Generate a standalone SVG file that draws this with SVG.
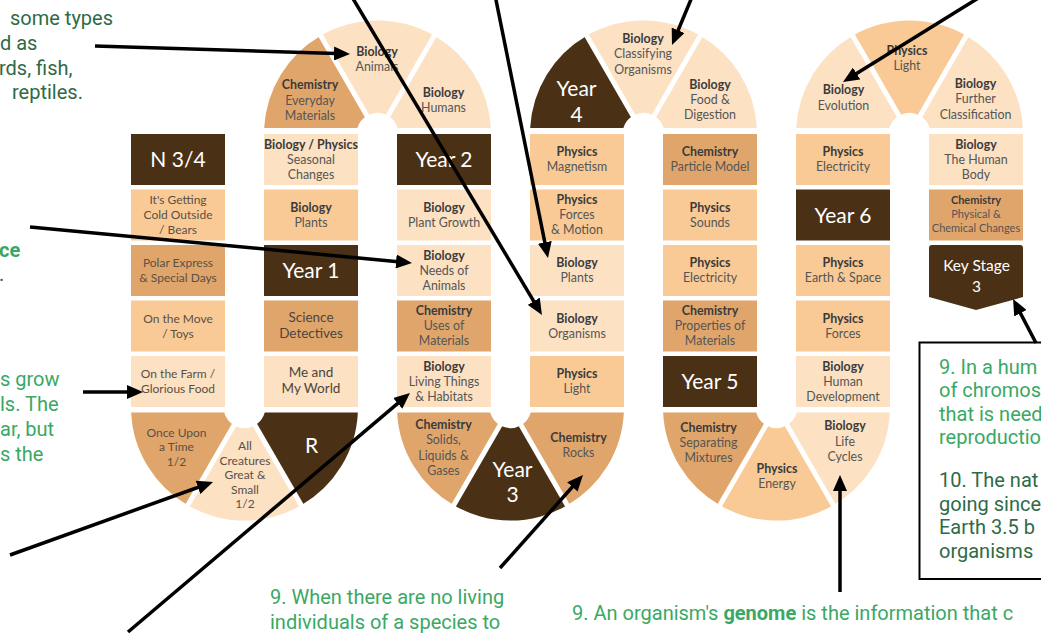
<svg xmlns="http://www.w3.org/2000/svg" width="1041" height="635" viewBox="0 0 1041 635">
<defs>
<marker id="ah" markerUnits="userSpaceOnUse" markerWidth="16" markerHeight="14" viewBox="0 0 16 14" refX="10" refY="7" orient="auto"><path d="M0,0 L16,7 L0,14 Z" fill="#000"/></marker>
<style>
.d{fill:#4a3116}.t{fill:#e0a56b}.m{fill:#f9ca95}.l{fill:#fce1c3}
.lb{font-family:Lato,"Noto Sans",sans-serif;font-size:12.4px;font-weight:700;fill:#3b3b3b;text-anchor:middle}
.tp{font-family:Lato,"Noto Sans",sans-serif;font-size:12.4px;fill:#555;text-anchor:middle}
.ps{font-family:Lato,"Noto Sans",sans-serif;font-size:12px;fill:#5a5046;text-anchor:middle}
.ps13{font-family:Lato,"Noto Sans",sans-serif;font-size:13.5px;fill:#4a4540;text-anchor:middle}
.yr{font-family:Lato,"Noto Sans",sans-serif;font-size:21px;fill:#fff;text-anchor:middle}
.ks{font-size:15.5px}
.sm{font-size:11px}
.g1{font-family:Roboto,"Liberation Sans",sans-serif;font-size:20px;fill:#3aa864}
.g2{font-family:Roboto,"Liberation Sans",sans-serif;font-size:20px;fill:#2f6a47}
.sep line{stroke:#fff;stroke-width:5}
.cn path{stroke:#000;stroke-width:3.5;fill:none;marker-end:url(#ah)}
</style>
</defs>
<rect width="1041" height="635" fill="#fff"/>

<g id="notes">
<text class="g2" x="10" y="24.5">some types</text>
<text class="g2" x="0" y="49.5">d as</text>
<text class="g2" x="-1" y="74.5">rds, fish,</text>
<text class="g2" x="12" y="99">reptiles.</text>
<text class="g1" x="-1" y="257" font-weight="700">ce</text>
<text class="g2" x="-1" y="281">.</text>
<text class="g1" x="0" y="386">s grow</text>
<text class="g1" x="0" y="411">ls. The</text>
<text class="g1" x="0" y="436">ar, but</text>
<text class="g1" x="0" y="461">s the</text>
<text class="g1" x="270" y="604">9. When there are no living</text>
<text class="g1" x="270" y="629">individuals of a species to</text>
<text class="g1" x="572" y="620">9. An organism's <tspan font-weight="700">genome</tspan> is the information that c</text>
</g>

<g id="note-box">
<rect x="919.5" y="342.5" width="130" height="236.5" fill="#fff" stroke="#000" stroke-width="2"/>
<text class="g1" x="939" y="373.5">9. In a hum</text>
<text class="g1" x="939" y="397">of chromos</text>
<text class="g1" x="939" y="420.5">that is need</text>
<text class="g1" x="939" y="444">reproductio</text>
<text class="g2" x="939" y="487">10. The nat</text>
<text class="g2" x="939" y="510.5">going since</text>
<text class="g2" x="939" y="534">Earth 3.5 b</text>
<text class="g2" x="939" y="557.5">organisms</text>
</g>

<!-- Column A -->
<g id="n34"><rect class="d" x="131" y="134" width="94" height="51"/><text class="yr" x="178" y="167">N 3/4</text></g>
<g id="cold"><rect class="m" x="131" y="189.5" width="94" height="51"/><text class="ps" x="178" y="204">It's Getting</text><text class="ps" x="178" y="219">Cold Outside</text><text class="ps" x="178" y="234">/ Bears</text></g>
<g id="polar"><rect class="t" x="131" y="245" width="94" height="51"/><text class="ps" x="178" y="267">Polar Express</text><text class="ps" x="178" y="282">&amp; Special Days</text></g>
<g id="move"><rect class="m" x="131" y="300.5" width="94" height="51"/><text class="ps" x="178" y="322.5">On the Move</text><text class="ps" x="178" y="337.5">/ Toys</text></g>
<g id="farm"><rect class="l" x="131" y="356" width="94" height="51"/><text class="ps" x="178" y="378">On the Farm /</text><text class="ps" x="178" y="393">Glorious Food</text></g>

<!-- Bottom arch A-B -->
<g id="once"><path class="t" transform="translate(244.5,407)" d="M-113.37,5.5 A113.5,113.5 0 0 0 -56.75,98.29 L-10.5,18.19 A21,21 0 0 1 -20.27,5.5 Z"/><text class="ps" x="176.5" y="436.5">Once Upon</text><text class="ps" x="176.5" y="451">a Time</text><text class="ps" x="176.5" y="465.5">1/2</text></g>
<g id="creatures"><path class="l" transform="translate(244.5,407)" d="M-56.75,98.29 A113.5,113.5 0 0 0 56.75,98.29 L10.5,18.19 A21,21 0 0 1 -10.5,18.19 Z"/><text class="ps" x="245" y="450">All</text><text class="ps" x="245" y="464.5">Creatures</text><text class="ps" x="245" y="479">Great &amp;</text><text class="ps" x="245" y="493.5">Small</text><text class="ps" x="245" y="508">1/2</text></g>
<g id="r"><path class="d" transform="translate(244.5,407)" d="M56.75,98.29 A113.5,113.5 0 0 0 113.37,5.5 L20.27,5.5 A21,21 0 0 1 10.5,18.19 Z"/><text class="yr" x="311.5" y="452.5">R</text></g>

<!-- Column B -->
<g id="seasonal"><rect class="l" x="264" y="134" width="94" height="51"/><text class="lb" x="311" y="148.5">Biology / Physics</text><text class="tp" x="311" y="163.5">Seasonal</text><text class="tp" x="311" y="178.5">Changes</text></g>
<g id="plants1"><rect class="m" x="264" y="189.5" width="94" height="51"/><text class="lb" x="311" y="211.5">Biology</text><text class="tp" x="311" y="226.5">Plants</text></g>
<g id="year1"><rect class="d" x="264" y="245" width="94" height="51"/><text class="yr" x="311" y="278">Year 1</text></g>
<g id="detectives"><rect class="t" x="264" y="300.5" width="94" height="51"/><text class="ps13" x="311" y="321.5">Science</text><text class="ps13" x="311" y="338">Detectives</text></g>
<g id="world"><rect class="l" x="264" y="356" width="94" height="51"/><text class="ps13" x="311" y="376.5">Me and</text><text class="ps13" x="311" y="393">My World</text></g>

<!-- Top arch B-C -->
<g id="everyday"><path class="t" transform="translate(377.5,134)" d="M-113.34,-6 A113.5,113.5 0 0 1 -56.75,-98.29 L-10.5,-18.19 A21,21 0 0 0 -20.12,-6 Z"/><text class="lb" x="310" y="89">Chemistry</text><text class="tp" x="310" y="104.5">Everyday</text><text class="tp" x="310" y="120">Materials</text></g>
<g id="animals"><path class="l" transform="translate(377.5,134)" d="M-56.75,-98.29 A113.5,113.5 0 0 1 56.75,-98.29 L10.5,-18.19 A21,21 0 0 0 -10.5,-18.19 Z"/><text class="lb" x="377" y="56">Biology</text><text class="tp" x="377" y="71">Animals</text></g>
<g id="humans"><path class="l" transform="translate(377.5,134)" d="M56.75,-98.29 A113.5,113.5 0 0 1 113.34,-6 L20.12,-6 A21,21 0 0 0 10.5,-18.19 Z"/><text class="lb" x="443.5" y="97">Biology</text><text class="tp" x="443.5" y="112">Humans</text></g>

<!-- Column C -->
<g id="year2"><rect class="d" x="397" y="134" width="94" height="51"/><text class="yr" x="444" y="167">Year 2</text></g>
<g id="growth"><rect class="l" x="397" y="189.5" width="94" height="51"/><text class="lb" x="444" y="211.5">Biology</text><text class="tp" x="444" y="226.5">Plant Growth</text></g>
<g id="needs"><rect class="l" x="397" y="245" width="94" height="51"/><text class="lb" x="444" y="259.5">Biology</text><text class="tp" x="444" y="274.5">Needs of</text><text class="tp" x="444" y="289.5">Animals</text></g>
<g id="uses"><rect class="t" x="397" y="300.5" width="94" height="51"/><text class="lb" x="444" y="315">Chemistry</text><text class="tp" x="444" y="330">Uses of</text><text class="tp" x="444" y="345">Materials</text></g>
<g id="living"><rect class="l" x="397" y="356" width="94" height="51"/><text class="lb" x="444" y="370.5">Biology</text><text class="tp" x="444" y="385.5">Living Things</text><text class="tp" x="444" y="400.5">&amp; Habitats</text></g>

<!-- Bottom arch C-D -->
<g id="solids"><path class="t" transform="translate(510.5,407)" d="M-113.37,5.5 A113.5,113.5 0 0 0 -56.75,98.29 L-10.5,18.19 A21,21 0 0 1 -20.27,5.5 Z"/><text class="lb" x="443.5" y="428.5">Chemistry</text><text class="tp" x="443.5" y="444">Solids,</text><text class="tp" x="443.5" y="459.5">Liquids &amp;</text><text class="tp" x="443.5" y="475">Gases</text></g>
<g id="year3"><path class="d" transform="translate(510.5,407)" d="M-56.75,98.29 A113.5,113.5 0 0 0 56.75,98.29 L10.5,18.19 A21,21 0 0 1 -10.5,18.19 Z"/><text class="yr" x="512.5" y="476.5">Year</text><text class="yr" x="512.5" y="502">3</text></g>
<g id="rocks"><path class="t" transform="translate(510.5,407)" d="M56.75,98.29 A113.5,113.5 0 0 0 113.37,5.5 L20.27,5.5 A21,21 0 0 1 10.5,18.19 Z"/><text class="lb" x="578.5" y="442">Chemistry</text><text class="tp" x="578.5" y="457">Rocks</text></g>

<!-- Column D -->
<g id="magnetism"><rect class="m" x="530" y="134" width="94" height="51"/><text class="lb" x="577" y="156">Physics</text><text class="tp" x="577" y="171">Magnetism</text></g>
<g id="forces-motion"><rect class="m" x="530" y="189.5" width="94" height="51"/><text class="lb" x="577" y="204">Physics</text><text class="tp" x="577" y="219">Forces</text><text class="tp" x="577" y="234">&amp; Motion</text></g>
<g id="plants3"><rect class="l" x="530" y="245" width="94" height="51"/><text class="lb" x="577" y="267">Biology</text><text class="tp" x="577" y="282">Plants</text></g>
<g id="organisms"><rect class="l" x="530" y="300.5" width="94" height="51"/><text class="lb" x="577" y="322.5">Biology</text><text class="tp" x="577" y="337.5">Organisms</text></g>
<g id="light3"><rect class="m" x="530" y="356" width="94" height="51"/><text class="lb" x="577" y="378">Physics</text><text class="tp" x="577" y="393">Light</text></g>

<!-- Top arch D-E -->
<g id="year4"><path class="d" transform="translate(643.5,134)" d="M-113.34,-6 A113.5,113.5 0 0 1 -56.75,-98.29 L-10.5,-18.19 A21,21 0 0 0 -20.12,-6 Z"/><text class="yr" x="576.5" y="96">Year</text><text class="yr" x="576.5" y="121.5">4</text></g>
<g id="classifying"><path class="l" transform="translate(643.5,134)" d="M-56.75,-98.29 A113.5,113.5 0 0 1 56.75,-98.29 L10.5,-18.19 A21,21 0 0 0 -10.5,-18.19 Z"/><text class="lb" x="643" y="42.5">Biology</text><text class="tp" x="643" y="58">Classifying</text><text class="tp" x="643" y="73.5">Organisms</text></g>
<g id="digestion"><path class="l" transform="translate(643.5,134)" d="M56.75,-98.29 A113.5,113.5 0 0 1 113.34,-6 L20.12,-6 A21,21 0 0 0 10.5,-18.19 Z"/><text class="lb" x="710" y="88.5">Biology</text><text class="tp" x="710" y="103.5">Food &amp;</text><text class="tp" x="710" y="119">Digestion</text></g>

<!-- Column E -->
<g id="particle"><rect class="t" x="663" y="134" width="94" height="51"/><text class="lb" x="710" y="156">Chemistry</text><text class="tp" x="710" y="171">Particle Model</text></g>
<g id="sounds"><rect class="m" x="663" y="189.5" width="94" height="51"/><text class="lb" x="710" y="211.5">Physics</text><text class="tp" x="710" y="226.5">Sounds</text></g>
<g id="electricity4"><rect class="m" x="663" y="245" width="94" height="51"/><text class="lb" x="710" y="267">Physics</text><text class="tp" x="710" y="282">Electricity</text></g>
<g id="properties"><rect class="t" x="663" y="300.5" width="94" height="51"/><text class="lb" x="710" y="315">Chemistry</text><text class="tp" x="710" y="330">Properties of</text><text class="tp" x="710" y="345">Materials</text></g>
<g id="year5"><rect class="d" x="663" y="356" width="94" height="51"/><text class="yr" x="710" y="389">Year 5</text></g>

<!-- Bottom arch E-F -->
<g id="mixtures"><path class="t" transform="translate(776.5,407)" d="M-113.37,5.5 A113.5,113.5 0 0 0 -56.75,98.29 L-10.5,18.19 A21,21 0 0 1 -20.27,5.5 Z"/><text class="lb" x="708.5" y="432">Chemistry</text><text class="tp" x="708.5" y="447">Separating</text><text class="tp" x="708.5" y="462">Mixtures</text></g>
<g id="energy"><path class="m" transform="translate(776.5,407)" d="M-56.75,98.29 A113.5,113.5 0 0 0 56.75,98.29 L10.5,18.19 A21,21 0 0 1 -10.5,18.19 Z"/><text class="lb" x="777" y="473">Physics</text><text class="tp" x="777" y="488">Energy</text></g>
<g id="lifecycles"><path class="l" transform="translate(776.5,407)" d="M56.75,98.29 A113.5,113.5 0 0 0 113.37,5.5 L20.27,5.5 A21,21 0 0 1 10.5,18.19 Z"/><text class="lb" x="845" y="430">Biology</text><text class="tp" x="845" y="445.5">Life</text><text class="tp" x="845" y="461">Cycles</text></g>

<!-- Column F -->
<g id="electricity6"><rect class="m" x="796" y="134" width="94" height="51"/><text class="lb" x="843" y="156">Physics</text><text class="tp" x="843" y="171">Electricity</text></g>
<g id="year6"><rect class="d" x="796" y="189.5" width="94" height="51"/><text class="yr" x="843" y="222.5">Year 6</text></g>
<g id="earth"><rect class="m" x="796" y="245" width="94" height="51"/><text class="lb" x="843" y="267">Physics</text><text class="tp" x="843" y="282">Earth &amp; Space</text></g>
<g id="forces6"><rect class="m" x="796" y="300.5" width="94" height="51"/><text class="lb" x="843" y="322.5">Physics</text><text class="tp" x="843" y="337.5">Forces</text></g>
<g id="development"><rect class="l" x="796" y="356" width="94" height="51"/><text class="lb" x="843" y="370.5">Biology</text><text class="tp" x="843" y="385.5">Human</text><text class="tp" x="843" y="400.5">Development</text></g>

<!-- Top arch F-G -->
<g id="evolution"><path class="l" transform="translate(909.5,134)" d="M-113.34,-6 A113.5,113.5 0 0 1 -56.75,-98.29 L-10.5,-18.19 A21,21 0 0 0 -20.12,-6 Z"/><text class="lb" x="843.5" y="94">Biology</text><text class="tp" x="843.5" y="110">Evolution</text></g>
<g id="light6"><path class="m" transform="translate(909.5,134)" d="M-56.75,-98.29 A113.5,113.5 0 0 1 56.75,-98.29 L10.5,-18.19 A21,21 0 0 0 -10.5,-18.19 Z"/><text class="lb" x="907" y="55">Physics</text><text class="tp" x="907" y="70">Light</text></g>
<g id="further"><path class="l" transform="translate(909.5,134)" d="M56.75,-98.29 A113.5,113.5 0 0 1 113.34,-6 L20.12,-6 A21,21 0 0 0 10.5,-18.19 Z"/><text class="lb" x="975.5" y="87.5">Biology</text><text class="tp" x="975.5" y="103">Further</text><text class="tp" x="975.5" y="118.5">Classification</text></g>

<!-- Column G -->
<g id="body"><rect class="l" x="929" y="134" width="94" height="51"/><text class="lb" x="976" y="148.5">Biology</text><text class="tp" x="976" y="163.5">The Human</text><text class="tp" x="976" y="178.5">Body</text></g>
<g id="changes"><rect class="t" x="929" y="189.5" width="94" height="51"/><text class="lb sm" x="976" y="203.5">Chemistry</text><text class="tp sm" x="976" y="217.5">Physical &amp;</text><text class="tp sm" x="976" y="231.5">Chemical Changes</text></g>
<g id="ks3"><path class="d" d="M929,248 Q929,245 932,245 L1020,245 Q1023,245 1023,248 L1023,297 L976,310 L929,297 Z"/><text class="yr ks" x="976.5" y="271">Key Stage</text><text class="yr ks" x="976.5" y="291.5">3</text></g>

<g id="separators" class="sep">
<line x1="244.5" y1="407" x2="186" y2="508.3"/><line x1="244.5" y1="407" x2="303" y2="508.3"/>
<line x1="377.5" y1="134" x2="319" y2="32.7"/><line x1="377.5" y1="134" x2="436" y2="32.7"/>
<line x1="510.5" y1="407" x2="452" y2="508.3"/><line x1="510.5" y1="407" x2="569" y2="508.3"/>
<line x1="643.5" y1="134" x2="585" y2="32.7"/><line x1="643.5" y1="134" x2="702" y2="32.7"/>
<line x1="776.5" y1="407" x2="718" y2="508.3"/><line x1="776.5" y1="407" x2="835" y2="508.3"/>
<line x1="909.5" y1="134" x2="851" y2="32.7"/><line x1="909.5" y1="134" x2="968" y2="32.7"/>
</g>

<g id="connectors" class="cn">
<path d="M95,46 L344,53.8"/>
<path d="M352,-3 L538.9,309.8"/>
<path d="M495.4,-3 L546.8,252.1"/>
<path d="M692,-3 L674.3,39.5"/>
<path d="M980,-3 L848.1,78.8"/>
<path d="M30,227 L406,262.4"/>
<path d="M83,392 L137,392"/>
<path d="M10,555 L207.4,484"/>
<path d="M128,632 L405.4,396.9"/>
<path d="M500,568 L579,479.5"/>
<path d="M840,592 L840,481"/>
<path d="M1036,343 L1015.8,304.3"/>
</g>
</svg>
